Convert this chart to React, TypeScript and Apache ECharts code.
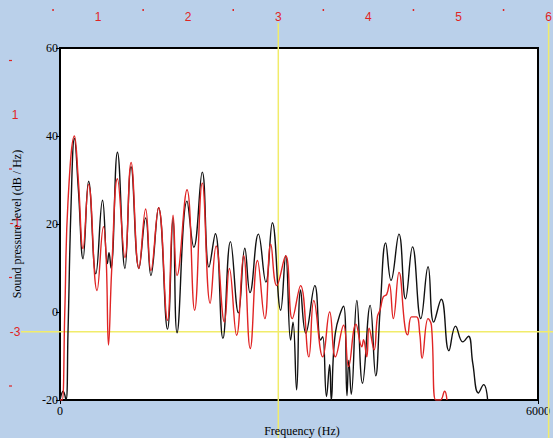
import React, { useEffect, useRef } from "react";
import * as echarts from "echarts";

// Black spectrum (Hz, dB/Hz)
const blackFreq = [0, 40, 75, 100, 140, 181, 230, 289, 359, 450, 534, 595, 615, 640, 721, 815, 892, 991, 1075, 1141, 1237, 1349, 1419, 1469, 1594, 1680, 1786, 1870, 1950, 2045, 2140, 2240, 2320, 2385, 2490, 2584, 2666, 2770, 2833, 2895, 2925, 2970, 3020, 3085, 3199, 3270, 3298, 3345, 3385, 3405, 3456, 3560, 3602, 3625, 3656, 3726, 3797, 3893, 3963, 4018, 4088, 4155, 4255, 4337, 4425, 4529, 4620, 4691, 4786, 4882, 4965, 5056, 5127, 5181, 5252, 5318, 5368];
const blackDb = [-20, -18, -20, -5, 25, 39.5, 28, 12.1, 29.7, 8.7, 25.4, 11, 13.5, 10, 36.3, 9.9, 33, 9.9, 21.4, 8.3, 23.7, -3.9, 21.4, -4.7, 25.2, 14.7, 31.8, 10.2, 17.8, -6, 16, -0.2, 14.5, 4.4, 17.7, 6.8, 20.3, 0.4, 12.8, -6.4, -2.3, -17.7, 5, -4.8, 6, -6.4, -5.6, -19.2, -12, -20, -4.8, 1.3, -19, -11, -18.7, 2.6, -16.2, 1.5, -14.5, 0.4, 15.7, 7.2, 17.7, 3, 14.8, -1.5, 10.3, -2.3, 2.9, -8.8, -3.2, -6.8, -5.5, -11.6, -18.4, -16.5, -20];

// Red spectrum (Hz, dB/Hz)
const redFreq = [0, 27, 60, 100, 181, 230, 289, 359, 465, 546, 580, 609, 650, 721, 815, 892, 991, 1075, 1141, 1237, 1349, 1419, 1469, 1594, 1690, 1786, 1885, 1960, 2064, 2126, 2217, 2305, 2388, 2479, 2571, 2646, 2721, 2833, 2916, 3020, 3124, 3186, 3298, 3385, 3457, 3560, 3622, 3715, 3789, 3810, 3851, 3880, 3943, 3984, 4018, 4057, 4101, 4134, 4184, 4255, 4330, 4362, 4412, 4474, 4516, 4545, 4620, 4662, 4716, 4774, 4828, 4857];
const redDb = [-20, -20, 0, 25, 40, 30, 14.4, 29, 4.9, 19.4, 12, -7.5, 10, 30.3, 12.4, 34, 9.9, 23.4, 9.4, 23.7, -1.9, 22, 8.3, 27.8, 0.4, 29.3, 2, 15, -2.3, 9.9, -5.3, 12.8, -8.3, 11.7, -1.5, 15.4, 6, 12.8, -1.5, 6, -10.2, 2.6, -10.2, 0, -10.2, -3, -12.4, -2.8, -7.9, -6.3, -10.2, -3.7, -8.6, -1.1, 0.5, 3.4, 4, 6.4, -1.5, 9, -3.4, -5.2, -1.1, -1.1, -5, -10.5, -1.5, -3, -20, -20, -18, -20];

const yTicks = [-20, 0, 20, 40, 60];
const xTicks = [0, 6000];

// Secondary (red) coordinate system labels
const redTopLabels = [1, 2, 3, 4, 5, 6];
const redTopMinor = [0.5, 1.5, 2.5, 3.5, 4.5, 5.5];
const redLeftLabels = [1, -1, -3];
const redLeftMinor = [2, 0, -2, -4];
const cursor = { x: 3, y: -3 };

const W = 553;
const H = 438;
const topX = (v: number) => 8 + v * 90.1;
const leftY = (v: number) => 169 - v * 54.25;

export default function App() {
  const ref = useRef<HTMLDivElement>(null);
  useEffect(() => {
    if (!ref.current) return;
    const chart = echarts.init(ref.current, null, { renderer: "svg" });
    const red = "#e02424";
    const yellow = "#f1ec6a";
    const graphic: any[] = [];
    redTopLabels.forEach((v) => {
      graphic.push({
        type: "text", x: topX(v), y: 17, z: 5,
        style: { text: String(v), fill: red, font: "12px Arial, 'Liberation Sans', sans-serif", align: "center", verticalAlign: "middle" },
      });
    });
    redTopMinor.forEach((v) => {
      graphic.push({ type: "line", z: 5, shape: { x1: topX(v), y1: 9, x2: topX(v), y2: 11 }, style: { stroke: red, lineWidth: 1.5 } });
    });
    redLeftLabels.forEach((v) => {
      graphic.push({
        type: "text", x: 15, y: leftY(v), z: 5,
        style: { text: String(v), fill: red, font: "12px Arial, 'Liberation Sans', sans-serif", align: "center", verticalAlign: "middle" },
      });
    });
    redLeftMinor.forEach((v) => {
      graphic.push({ type: "line", z: 5, shape: { x1: 9, y1: leftY(v), x2: 12, y2: leftY(v) }, style: { stroke: red, lineWidth: 1.2 } });
    });
    graphic.push({ type: "line", z: 1, shape: { x1: topX(cursor.x), y1: 23, x2: topX(cursor.x), y2: H }, style: { stroke: yellow, lineWidth: 1.5 } });
    graphic.push({ type: "line", z: 1, shape: { x1: topX(6), y1: 23, x2: topX(6), y2: H }, style: { stroke: yellow, lineWidth: 1.5 } });
    graphic.push({ type: "line", z: 1, shape: { x1: 21, y1: leftY(cursor.y), x2: W, y2: leftY(cursor.y) }, style: { stroke: yellow, lineWidth: 1.5 } });
    graphic.push({
      type: "text", x: 302, y: 431, z: 5,
      style: { text: "Frequency (Hz)", fill: "#000", font: "12px 'Liberation Serif', serif", align: "center", verticalAlign: "middle" },
    });
    graphic.push({
      type: "text", x: 17, y: 224, rotation: Math.PI / 2, z: 4,
      style: { text: "Sound pressure level (dB / Hz)", fill: "#000", font: "12px 'Liberation Serif', serif", align: "center", verticalAlign: "middle" },
    });

    chart.setOption({
      animation: false,
      backgroundColor: "#bad0ea",
      grid: {
        left: 60, right: 13, top: 48, bottom: 38,
        show: true, backgroundColor: "#ffffff", borderColor: "#000", borderWidth: 2,
      },
      xAxis: {
        type: "value", min: xTicks[0], max: xTicks[1], interval: xTicks[1] - xTicks[0],
        axisLine: { show: true, onZero: false, lineStyle: { color: "#000", width: 2 } },
        axisTick: { show: true, length: 4, lineStyle: { color: "#000" } },
        axisLabel: { color: "#000", fontFamily: "'Liberation Serif', serif", fontSize: 12, margin: 5, formatter: (v: number) => String(v) },
        splitLine: { show: false },
      },
      yAxis: {
        type: "value", min: yTicks[0], max: yTicks[yTicks.length - 1], interval: 20,
        axisLine: { show: true, onZero: false, lineStyle: { color: "#000", width: 2 } },
        axisTick: { show: true, length: 4, lineStyle: { color: "#000" } },
        axisLabel: { color: "#000", fontFamily: "'Liberation Serif', serif", fontSize: 12, margin: 2, formatter: (v: number) => String(v) },
        splitLine: { show: false },
      },
      graphic,
      series: [
        {
          type: "line", data: blackFreq.map((f, i) => [f, blackDb[i]]), smooth: 0.45, showSymbol: false,
          lineStyle: { color: "#111", width: 1.4 }, z: 2,
        },
        {
          type: "line", data: redFreq.map((f, i) => [f, redDb[i]]), smooth: 0.45, showSymbol: false,
          lineStyle: { color: red, width: 1.4 }, z: 3,
        },
      ],
    });
    return () => chart.dispose();
  }, []);
  return <div ref={ref} style={{ position: "absolute", left: 0, top: 0, width: W, height: H }} />;
}
